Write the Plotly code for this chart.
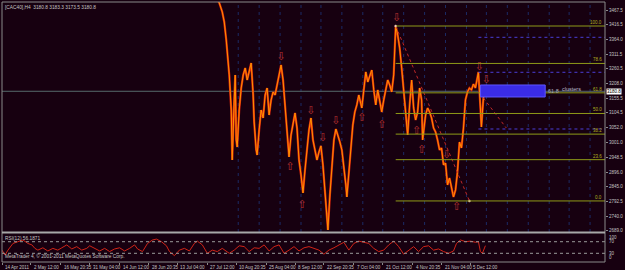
import plotly.graph_objects as go

# ---------------- data ----------------
BG = "#170010"

price_bar = [214,218,221,223,225,227,228,230,231,233,
             234,235,236,238,240,242,244,246,248,250,
             252,253,255,256,258,260,262,264,266,268,
             270,272,274,276,278,280,282,284,286,288,
             290,292,294,296,298,300,302,304,306,308,
             310,312,314,316,318,320,322,324,326,327,
             329,331,333,335,337,339,341,343,345,346,
             348,350,352,354,356,358,360,361,363,365,
             367,369,371,373,375,377,379,381,383,385,
             387,389,391,393,394,395,397,399,401,403,
             405,407,409,411,413,415,417,419,421,422,
             425,427,429,431,433,435,437,439,441,443,
             445,447,449,451,453,455,457,459,461,463,
             465,467,469,471,473,475,477,478,479,480,
             481,483,484,485]
price_val = [3520.4,3492.2,3460.5,3425.2,3361.7,3291.2,3238.3,3114.8,2938.5,3150.1,
             3238.3,3009.0,2984.3,3114.8,3192.4,3238.3,3263.0,3220.6,3248.9,3280.6,
             3167.7,3072.5,2973.8,2956.1,3044.3,3114.8,3086.6,3167.7,3192.4,3097.2,
             3150.1,3178.3,3167.7,3203.0,3238.3,3273.5,3220.6,3121.9,3044.3,2949.1,
             3026.7,3061.9,3104.2,3051.3,2938.5,2885.6,2822.1,2903.2,2973.8,3044.3,
             3086.6,3009.0,2973.8,2938.5,2966.7,2987.9,2920.9,2832.7,2755.1,2691.6,
             2815.0,2920.9,3009.0,3047.8,3026.7,3002.0,2973.8,2920.9,2850.3,2808.0,
             2903.2,2991.4,3061.9,3107.8,3132.5,3167.7,3143.1,3121.9,3185.4,3248.9,
             3213.6,3238.3,3255.9,3185.4,3132.5,3185.4,3150.1,3107.8,3150.1,3185.4,
             3220.6,3203.0,3178.3,3238.3,3326.5,3411.1,3379.4,3333.5,3263.0,3185.4,
             3079.6,3026.7,3132.5,3220.6,3121.9,3079.6,3107.8,3192.4,3150.1,3009.0,
             3097.2,3121.9,3107.8,3086.6,3051.3,3037.2,3009.0,2973.8,2980.8,2920.9,
             2927.9,2850.3,2875.0,2839.7,2808.0,2832.7,2896.2,3002.0,2980.8,3051.3,
             3150.1,3178.3,3192.4,3185.4,3206.5,3192.4,3227.7,3248.9,3185.4,3114.8,
             3054.9,3157.2,3203.0,3180.8]

rsi_bar = [0,3,6,11,16,21,26,30,33,36,41,46,51,56,60,65,70,75,80,85,88,93,98,103,108,
           113,118,123,128,133,136,141,146,151,155,160,165,168,173,178,183,188,193,196,
           201,206,211,216,221,228,233,238,243,248,253,258,263,268,273,278,283,288,293,
           298,303,308,313,318,323,328,333,338,343,348,353,358,363,368,373,378,383,388,
           393,398,403,408,413,418,423,428,433,438,443,448,453,456,460,465,470,475,478,
           480,482,485]
rsi_val = [41,24,41,64,70,76,64,59,47,41,49,38,47,41,49,59,45,53,41,47,56,47,38,47,36,
           45,49,38,47,59,45,36,64,76,79,70,56,36,22,41,47,38,64,72,
           59,30,41,36,47,30,41,56,53,36,49,47,59,38,53,59,30,41,53,
           38,49,53,47,41,27,41,49,59,68,41,64,72,68,64,47,36,41,59,
           72,53,27,41,53,36,53,56,41,45,36,30,38,64,76,70,72,68,70,
           36,30,56.1871]

frac_down_bar = [280, 310, 322, 335, 396, 446, 479, 486]
frac_down_val = [3301.8, 3111.3, 3016.1, 3076.0, 3439.3, 2956.1, 3266.5, 3220.6]
frac_up_bar = [289, 301, 361, 381, 416, 421, 456]
frac_up_val = [2913.8, 2779.8, 3086.6, 3061.9, 3040.8, 2973.8, 2772.7]

fib_start_bar = 395
fib_end_bar = 469
fib_high = 3411.0
fib_low = 2794.0
fib_levels = [0.0, 23.6, 38.2, 50.0, 61.8, 78.6, 100.0]

cluster_bar_start = 478
cluster_levels = [3371.2, 3247.8, 3047.8]
cluster_box_bars = [480, 545]
cluster_box_prices = [3160.7, 3203.0]

trend2_bars = [483, 506]
trend2_prices = [3157.2, 3051.3]

week_sep_bars = [237,258,279,300,320,341,362,382,403,424,445,466,486,507,528,549,569,590]

last_price = 3180.8
ohlc_text = "[CAC40],H4  3180.8 3183.3 3173.5 3180.8"
rsi_label = "RSI(12) 56.1871"

price_ticks = [3467.5,3416.5,3364.0,3311.5,3260.5,3208.0,3155.5,3104.5,3052.0,
               3001.0,2948.5,2896.0,2845.0,2792.5,2740.0,2689.0]

time_tick_bars = [0,29,59,88,118,147,176,206,235,265,294,323,353,382,412,441,470]
time_tick_text = ["14 Apr 2011","2 May 12:00","16 May 20:35","31 May 04:00","14 Jun 12:00",
                  "28 Jun 20:35","13 Jul 04:00","27 Jul 12:00","10 Aug 20:35","25 Aug 04:00",
                  "8 Sep 12:00","22 Sep 20:35","7 Oct 04:00","21 Oct 12:00","4 Nov 20:35",
                  "21 Nov 04:00","5 Dec 12:00"]

# ---------------- figure ----------------
X_MAX = 605
Y_MIN, Y_MAX = 2684.5, 3495.7
FONT = "Liberation Sans"
GRAY = "#8a8a8a"
TXT = "#c4c4c4"
OLIVE = "#8f9a18"

fig = go.Figure()

# price (imitating bar texture: red under, orange over)
fig.add_trace(go.Scatter(x=price_bar, y=price_val, mode="lines",
                         line=dict(color="#d8230c", width=2.2), xaxis="x", yaxis="y",
                         hoverinfo="skip"))
fig.add_trace(go.Scatter(x=price_bar, y=price_val, mode="lines",
                         line=dict(color="#ff9000", width=1), xaxis="x", yaxis="y",
                         hoverinfo="skip"))

# fractals
fig.add_trace(go.Scatter(x=frac_down_bar, y=frac_down_val, mode="text", text=["⇩"]*len(frac_down_bar),
                         textfont=dict(color="#b83030", size=11, family="DejaVu Sans"),
                         xaxis="x", yaxis="y", hoverinfo="skip"))
fig.add_trace(go.Scatter(x=frac_up_bar, y=frac_up_val, mode="text", text=["⇧"]*len(frac_up_bar),
                         textfont=dict(color="#b83030", size=11, family="DejaVu Sans"),
                         xaxis="x", yaxis="y", hoverinfo="skip"))

# fib trend line
fig.add_trace(go.Scatter(x=[fib_start_bar, fib_end_bar], y=[fib_high, fib_low], mode="lines+markers",
                         line=dict(color="#c02828", width=1, dash="dot"),
                         marker=dict(color="#ffd0d0", size=2.5),
                         xaxis="x", yaxis="y", hoverinfo="skip"))
fig.add_trace(go.Scatter(x=trend2_bars, y=trend2_prices, mode="lines",
                         line=dict(color="#c02828", width=1, dash="dot"),
                         xaxis="x", yaxis="y", hoverinfo="skip"))

# RSI
fig.add_trace(go.Scatter(x=rsi_bar, y=rsi_val, mode="lines",
                         line=dict(color="#d02418", width=1), xaxis="x2", yaxis="y2",
                         hoverinfo="skip"))

shapes = []
annotations = []

# weekly separators
for b in week_sep_bars:
    shapes.append(dict(type="line", xref="x", yref="y domain", x0=b, x1=b, y0=0, y1=1,
                       line=dict(color="#1c2a66", width=1, dash="3px,4px"), layer="below"))

# bid line
shapes.append(dict(type="line", xref="x", yref="y", x0=0, x1=X_MAX, y0=last_price, y1=last_price,
                   line=dict(color="#566a6c", width=1), layer="below"))

# fib levels
for lv in fib_levels:
    p = fib_low + lv / 100.0 * (fib_high - fib_low)
    shapes.append(dict(type="line", xref="x", yref="y", x0=fib_start_bar, x1=X_MAX, y0=p, y1=p,
                       line=dict(color=OLIVE, width=1)))
    annotations.append(dict(x=X_MAX - 1, y=p, xref="x", yref="y", text=f"{lv:.1f}",
                            showarrow=False, xanchor="right", yanchor="bottom", yshift=-1,
                            font=dict(family=FONT, size=4.5, color="#b0b020")))

# cluster lines
for p in cluster_levels:
    shapes.append(dict(type="line", xref="x", yref="y", x0=cluster_bar_start, x1=X_MAX, y0=p, y1=p,
                       line=dict(color="#4a3ed8", width=1, dash="dot")))

# cluster box
shapes.append(dict(type="rect", xref="x", yref="y", x0=cluster_box_bars[0], x1=cluster_box_bars[1],
                   y0=cluster_box_prices[0], y1=cluster_box_prices[1],
                   fillcolor="#3a2ce6", line=dict(color="#5e56ff", width=1)))
annotations.append(dict(x=cluster_box_bars[1] + 1, y=sum(cluster_box_prices) / 2, xref="x", yref="y",
                        text="61.8", showarrow=False, xanchor="left", yanchor="middle",
                        font=dict(family=FONT, size=5.5, color="#a8a8b8")))
annotations.append(dict(x=cluster_box_bars[1] + 15, y=sum(cluster_box_prices) / 2 + 8, xref="x", yref="y",
                        text="clusters", showarrow=False, xanchor="left", yanchor="middle",
                        font=dict(family=FONT, size=5.5, color="#b8b8c8")))

# RSI levels
for lv in [70, 30]:
    shapes.append(dict(type="line", xref="x2", yref="y2", x0=0, x1=X_MAX, y0=lv, y1=lv,
                       line=dict(color="#9a9a9a", width=1, dash="dot")))

# frames
shapes.append(dict(type="rect", xref="paper", yref="paper", x0=0, x1=1, y0=0, y1=1,
                   line=dict(color=GRAY, width=1)))
shapes.append(dict(type="line", xref="paper", yref="paper", x0=0, x1=1, y0=0.1135, y1=0.1135,
                   line=dict(color="#a8a8a8", width=2)))

# texts
annotations.append(dict(x=0.002, y=1, xref="paper", yref="paper", text=ohlc_text, showarrow=False,
                        xanchor="left", yanchor="top", yshift=-1,
                        font=dict(family=FONT, size=4.8, color=TXT)))
annotations.append(dict(x=0.002, y=1, xref="paper", yref="y2 domain", text=rsi_label, showarrow=False,
                        xanchor="left", yanchor="top", yshift=-1,
                        font=dict(family=FONT, size=4.8, color=TXT)))
annotations.append(dict(x=0.002, y=0, xref="paper", yref="y2 domain",
                        text="MetaTrader 4, © 2001-2011 MetaQuotes Software Corp.", showarrow=False,
                        xanchor="left", yanchor="bottom", yshift=1,
                        font=dict(family=FONT, size=4.8, color=TXT)))
for v, anc in [(100, "top"), (70, "middle"), (30, "middle"), (0, "bottom")]:
    annotations.append(dict(x=1, y=v, xref="paper", yref="y2", text=str(v), showarrow=False,
                            xanchor="left", yanchor=anc, xshift=2,
                            font=dict(family=FONT, size=4.5, color=TXT)))
for b, t in zip(time_tick_bars, time_tick_text):
    annotations.append(dict(x=b, y=0, xref="x2", yref="paper", text=t, showarrow=False,
                            xanchor="left", yanchor="top", yshift=-1, xshift=1,
                            font=dict(family=FONT, size=4.5, color=TXT)))
annotations.append(dict(x=1, y=last_price, xref="paper", yref="y", text=f"{last_price:.1f}",
                        showarrow=False, xanchor="left", yanchor="middle", xshift=1,
                        bgcolor="#ffffff", borderpad=0,
                        font=dict(family=FONT, size=4.5, color="#000000")))

fig.update_layout(
    width=625, height=270,
    margin=dict(l=2, r=18, t=2, b=8),
    paper_bgcolor=BG, plot_bgcolor=BG,
    showlegend=False,
    shapes=shapes, annotations=annotations,
    xaxis=dict(domain=[0, 1], range=[0, X_MAX], showgrid=False, zeroline=False,
               showticklabels=False, anchor="y", fixedrange=True),
    yaxis=dict(domain=[0.1154, 1], range=[Y_MIN, Y_MAX], side="right", showgrid=False,
               zeroline=False, tickvals=price_ticks, ticktext=[f"{v:.1f}" for v in price_ticks],
               tickfont=dict(family=FONT, size=4.5, color=TXT), ticks="outside", ticklen=2,
               tickcolor=GRAY, anchor="x"),
    xaxis2=dict(domain=[0, 1], range=[0, X_MAX], showgrid=False, zeroline=False,
                showticklabels=False, anchor="y2", ticks="outside", ticklen=2, tickcolor=GRAY,
                tickvals=time_tick_bars),
    yaxis2=dict(domain=[0, 0.1115], range=[0, 100], side="right", showgrid=False, zeroline=False,
                showticklabels=False, anchor="x2"),
)

fig.write_html("out.html")
